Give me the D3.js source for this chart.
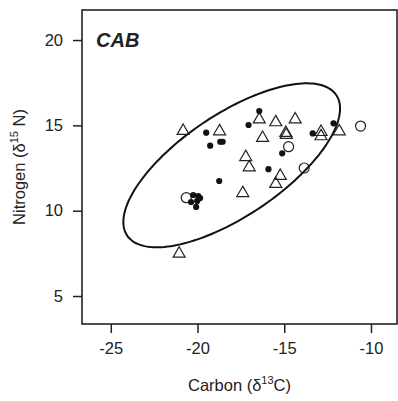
<!DOCTYPE html>
<html>
<head>
<meta charset="utf-8">
<script src="https://cdn.jsdelivr.net/npm/d3@7"></script>
<style>
  body { margin: 0; background: #fff; }
  text { font-family: "Liberation Sans", Arial, sans-serif; fill: #222; }
</style>
</head>
<body>
<div id="chart"></div>
<script>
var w = 398;
var h = 401;

// data: [carbon, nitrogen]
var dots = [
  [-19.50, 14.57], [-19.27, 13.81], [-18.69, 14.04], [-18.55, 14.04],
  [-18.75, 11.74], [-17.06, 15.02], [-16.44, 15.84], [-15.12, 13.36],
  [-15.91, 12.43], [-13.36, 14.53], [-12.16, 15.12],
  [-20.25, 10.92], [-19.96, 10.86], [-20.37, 10.51], [-20.02, 10.57],
  [-20.08, 10.22], [-19.85, 10.74]
];
var triangles = [
  [-20.83, 14.69], [-18.73, 14.67], [-16.44, 15.37], [-15.49, 15.20],
  [-14.37, 15.37], [-16.25, 14.28], [-14.91, 14.58], [-14.88, 14.46],
  [-17.22, 13.16], [-17.02, 12.56], [-15.23, 12.06], [-15.49, 11.59],
  [-17.39, 11.05], [-12.88, 14.63], [-12.88, 14.38], [-11.83, 14.67],
  [-21.06, 7.50]
];
var circles = [
  [-20.65, 10.76], [-14.75, 13.75], [-13.85, 12.50], [-10.60, 14.96]
];
// ellipse: centre x, centre y, semi-major, semi-minor, angle (deg)
var ellipse = [-18.03, 12.66, 7.3, 2.97, 34.5];

var xTicks = [-25, -20, -15, -10];
var yTicks = [5, 10, 15, 20];

var mLeft = 82, mRight = 397, mTop = 10, mBottom = 324;

var svg = d3.select("#chart")
  .append("svg")
  .attr("width", w)
  .attr("height", h);

var x = d3.scaleLinear().domain([-26.66, -8.5]).range([mLeft, mRight]);
var y = d3.scaleLinear().domain([3.36, 21.76]).range([mBottom, mTop]);

// axes
var xAxis = svg.append("g")
  .attr("transform", "translate(0," + mBottom + ")")
  .call(d3.axisBottom(x).tickValues(xTicks).tickSize(9).tickPadding(4).tickFormat(function(d) { return String(d); }));
var yAxis = svg.append("g")
  .attr("transform", "translate(" + mLeft + ",0)")
  .call(d3.axisLeft(y).tickValues(yTicks).tickSize(9).tickPadding(10).tickFormat(function(d) { return String(d); }));

[xAxis, yAxis].forEach(function(g) {
  g.select(".domain").remove();
  g.selectAll(".tick line").attr("stroke", "#222").attr("stroke-width", 1.5);
  g.selectAll(".tick text").attr("font-size", 16.5).attr("fill", "#222")
    .attr("font-family", "Liberation Sans, Arial, sans-serif");
});
xAxis.selectAll(".tick text").attr("dy", "1.05em");

// box
svg.append("rect")
  .attr("x", mLeft).attr("y", mTop)
  .attr("width", mRight - mLeft).attr("height", mBottom - mTop)
  .attr("fill", "none").attr("stroke", "#222").attr("stroke-width", 1.6);

// ellipse
var ang = ellipse[4] * Math.PI / 180;
var epts = d3.range(0, 361, 2).map(function(t) {
  var r = t * Math.PI / 180;
  var u = ellipse[2] * Math.cos(r), v = ellipse[3] * Math.sin(r);
  return [ellipse[0] + u * Math.cos(ang) - v * Math.sin(ang),
          ellipse[1] + u * Math.sin(ang) + v * Math.cos(ang)];
});
svg.append("path")
  .attr("d", d3.line().x(function(d) { return x(d[0]); }).y(function(d) { return y(d[1]); })(epts))
  .attr("fill", "none").attr("stroke", "#111").attr("stroke-width", 2);

// markers
svg.selectAll("path.tri")
  .data(triangles)
  .enter()
  .append("path")
  .attr("class", "tri")
  .attr("d", "M0,-6.6L6,3.8L-6,3.8Z")
  .attr("transform", function(d) { return "translate(" + x(d[0]) + "," + y(d[1]) + ")"; })
  .attr("fill", "none").attr("stroke", "#222").attr("stroke-width", 1.2);

svg.selectAll("circle.open")
  .data(circles)
  .enter()
  .append("circle")
  .attr("class", "open")
  .attr("cx", function(d) { return x(d[0]); })
  .attr("cy", function(d) { return y(d[1]); })
  .attr("r", 5)
  .attr("fill", "none").attr("stroke", "#222").attr("stroke-width", 1.2);

svg.selectAll("circle.dot")
  .data(dots)
  .enter()
  .append("circle")
  .attr("class", "dot")
  .attr("cx", function(d) { return x(d[0]); })
  .attr("cy", function(d) { return y(d[1]); })
  .attr("r", 3.1)
  .attr("fill", "#111");

// labels
svg.append("text")
  .attr("x", 96).attr("y", 47)
  .attr("font-size", 20).attr("font-weight", "bold").attr("font-style", "italic")
  .text("CAB");

var xl = svg.append("text")
  .attr("x", (mLeft + mRight) / 2).attr("y", 391)
  .attr("text-anchor", "middle").attr("font-size", 16.5);
xl.append("tspan").text("Carbon (δ");
xl.append("tspan").attr("font-size", 11).attr("dy", -7).text("13");
xl.append("tspan").attr("dy", 7).text("C)");

var yl = svg.append("text")
  .attr("transform", "translate(25," + ((mTop + mBottom) / 2) + ") rotate(-90)")
  .attr("text-anchor", "middle").attr("font-size", 16.5);
yl.append("tspan").text("Nitrogen (δ");
yl.append("tspan").attr("font-size", 11).attr("dy", -7).text("15");
yl.append("tspan").attr("dy", 7).text(" N)");
</script>
</body>
</html>
